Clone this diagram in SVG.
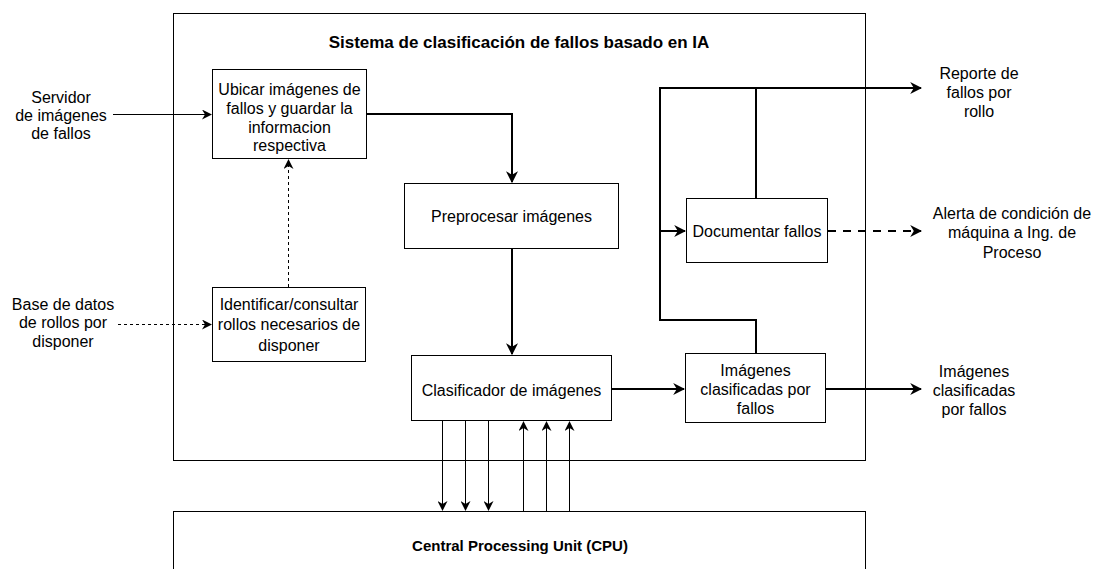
<svg xmlns="http://www.w3.org/2000/svg" width="1094" height="569" viewBox="0 0 1094 569">
<style>
text{font-family:"Liberation Sans",Arial,sans-serif;font-size:16px;fill:#000;text-anchor:middle}
.b{font-weight:bold}
.t{font-size:17px}
.c{font-size:15px}
.box{fill:#fff;stroke:#000;stroke-width:1}
.thin{fill:none;stroke:#000;stroke-width:1}
.thick{fill:none;stroke:#000;stroke-width:2}
.dot{fill:none;stroke:#000;stroke-width:1;stroke-dasharray:3 3}
.dash{fill:none;stroke:#000;stroke-width:2;stroke-dasharray:8 7}
</style>
<defs>
<marker id="a" viewBox="0 0 10 10" refX="9" refY="5" markerWidth="10" markerHeight="10" markerUnits="userSpaceOnUse" orient="auto"><path d="M0,0 L10,5 L0,10 L3,5 Z" fill="#000"/></marker>
<marker id="ab" viewBox="0 0 10 10" refX="9" refY="5" markerWidth="12" markerHeight="12" markerUnits="userSpaceOnUse" orient="auto"><path d="M0,0 L10,5 L0,10 L3,5 Z" fill="#000"/></marker>
</defs>
<rect width="1094" height="569" fill="#fff"/>
<g id="system">
<rect class="box" x="173.5" y="13.5" width="692" height="447"/>
<text class="b t" x="519" y="48">Sistema de clasificación de fallos basado en IA</text>
</g>
<g id="cpu">
<rect class="box" x="173.5" y="511.5" width="692" height="80"/>
<text class="b c" x="520" y="551">Central Processing Unit (CPU)</text>
</g>
<g id="ubicar">
<rect class="box" x="212.5" y="69.5" width="154" height="89"/>
<text x="289.5" y="95">Ubicar imágenes de</text>
<text x="289.5" y="114">fallos y guardar la</text>
<text x="289.5" y="132.5">informacion</text>
<text x="289.5" y="151">respectiva</text>
</g>
<g id="identificar">
<rect class="box" x="212.5" y="287.5" width="153" height="74"/>
<text x="289" y="309.5">Identificar/consultar</text>
<text x="289" y="330">rollos necesarios de</text>
<text x="289" y="350.5">disponer</text>
</g>
<g id="preprocesar">
<rect class="box" x="404.5" y="183.5" width="214" height="65"/>
<text x="511.5" y="221.5">Preprocesar imágenes</text>
</g>
<g id="clasificador">
<rect class="box" x="411.5" y="355.5" width="200" height="65"/>
<text x="511.5" y="395.5">Clasificador de imágenes</text>
</g>
<g id="clasificadas">
<rect class="box" x="685.5" y="353.5" width="140" height="69"/>
<text x="755.5" y="376">Imágenes</text>
<text x="755.5" y="395">clasificadas por</text>
<text x="755.5" y="414">fallos</text>
</g>
<g id="documentar">
<rect class="box" x="686.5" y="198.5" width="141" height="64"/>
<text x="757" y="237">Documentar fallos</text>
</g>
<g id="labels">
<text x="61" y="103">Servidor</text>
<text x="61" y="121">de imágenes</text>
<text x="61" y="139">de fallos</text>
<text x="63" y="310">Base de datos</text>
<text x="63" y="328">de rollos por</text>
<text x="63" y="346.5">disponer</text>
<text x="979" y="79">Reporte de</text>
<text x="979" y="98">fallos por</text>
<text x="979" y="117">rollo</text>
<text x="1012" y="219">Alerta de condición de</text>
<text x="1012" y="238">máquina a Ing. de</text>
<text x="1012" y="258">Proceso</text>
<text x="974" y="377">Imágenes</text>
<text x="974" y="396">clasificadas</text>
<text x="974" y="415">por fallos</text>
</g>
<g id="connectors">
<path class="thin" d="M113,114.5 H211" marker-end="url(#a)"/>
<path class="dot" d="M118,324.5 H211" marker-end="url(#a)"/>
<path class="dot" d="M288.5,287 V160" marker-end="url(#a)"/>
<path class="thick" d="M367,114 H512 V182" marker-end="url(#ab)"/>
<path class="thick" d="M512,249 V354" marker-end="url(#ab)"/>
<path class="thick" d="M612,389 H684" marker-end="url(#ab)"/>
<path class="thick" d="M826,389 H921" marker-end="url(#ab)"/>
<path class="thick" d="M756,353 V320 H660 V88 H921" marker-end="url(#ab)"/>
<path class="thick" d="M756,198 V88"/>
<path class="thick" d="M660,231 H685" marker-end="url(#ab)"/>
<path class="dash" d="M828,231 H921" marker-end="url(#ab)"/>
<path class="thin" d="M442.5,421 V510" marker-end="url(#a)"/>
<path class="thin" d="M465.5,421 V510" marker-end="url(#a)"/>
<path class="thin" d="M488.5,421 V510" marker-end="url(#a)"/>
<path class="thin" d="M523.5,511 V422" marker-end="url(#a)"/>
<path class="thin" d="M546.5,511 V422" marker-end="url(#a)"/>
<path class="thin" d="M569.5,511 V422" marker-end="url(#a)"/>
</g>
</svg>
